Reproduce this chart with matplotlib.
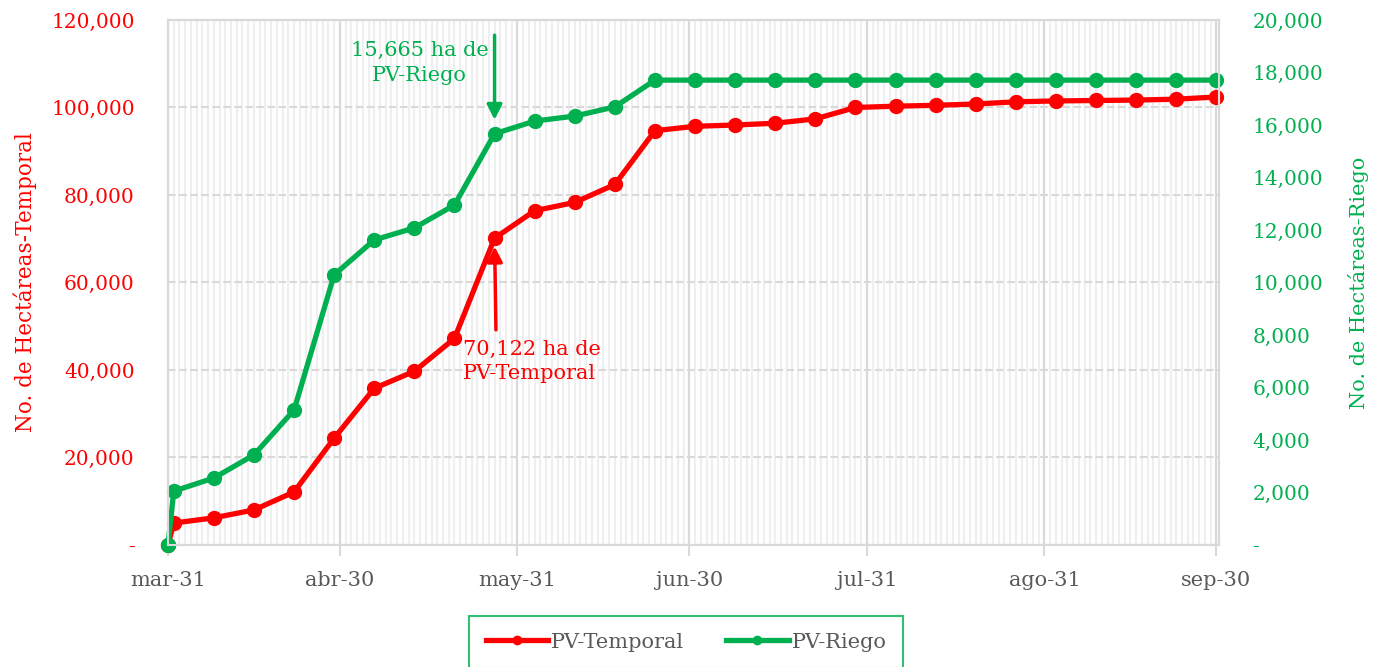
import matplotlib.pyplot as plt
import matplotlib.dates as mdates
import matplotlib.ticker as mticker
import numpy as np
import pandas as pd

# datos semanales (ha acumuladas)
fechas = ['2020-03-31', '2020-04-01', '2020-04-08', '2020-04-15', '2020-04-22', '2020-04-29',
          '2020-05-06', '2020-05-13', '2020-05-20', '2020-05-27', '2020-06-03', '2020-06-10',
          '2020-06-17', '2020-06-24', '2020-07-01', '2020-07-08', '2020-07-15', '2020-07-22',
          '2020-07-29', '2020-08-05', '2020-08-12', '2020-08-19', '2020-08-26', '2020-09-02',
          '2020-09-09', '2020-09-16', '2020-09-23', '2020-09-30']
temporal = [0, 5000, 6200, 8000, 12100, 24400, 35800, 39700, 47200, 70122, 76400, 78300,
            82400, 94700, 95700, 96000, 96400, 97400, 100000, 100300, 100500, 100800,
            101300, 101500, 101600, 101700, 101900, 102400]
riego = [0, 2050, 2550, 3430, 5140, 10290, 11620, 12080, 12950, 15665, 16150, 16340,
         16690, 17710, 17710, 17710, 17710, 17710, 17710, 17710, 17710, 17710,
         17710, 17710, 17710, 17710, 17710, 17710]
ticks_x = ['2020-03-31', '2020-04-30', '2020-05-31', '2020-06-30', '2020-07-31', '2020-08-31', '2020-09-30']
etiquetas_x = ['mar-31', 'abr-30', 'may-31', 'jun-30', 'jul-31', 'ago-31', 'sep-30']

ROJO = '#ff0000'
VERDE = '#00b050'
GRIS = '#595959'

plt.rcParams['font.family'] = ['DejaVu Serif']

x = pd.to_datetime(fechas)

fig = plt.figure(figsize=(13.75, 6.67), dpi=100)
ax = fig.add_axes([0.1222, 0.183, 0.7645, 0.787])
ax2 = ax.twinx()

l1, = ax.plot(x, temporal, color=ROJO, lw=3.8, marker='o', ms=10, label='PV-Temporal', clip_on=False)
l2, = ax2.plot(x, riego, color=VERDE, lw=3.8, marker='o', ms=10, label='PV-Riego', clip_on=False)

# ejes
ax.set_xlim(pd.Timestamp('2020-03-31'), pd.Timestamp('2020-09-30 12:00'))
ax.set_ylim(0, 120000)
ax2.set_ylim(0, 20000)
ax.yaxis.set_major_locator(mticker.MultipleLocator(20000))
ax2.yaxis.set_major_locator(mticker.MultipleLocator(2000))
fmt = mticker.FuncFormatter(lambda v, p: '-' if v == 0 else f'{v:,.0f}')
ax.yaxis.set_major_formatter(fmt)
ax2.yaxis.set_major_formatter(fmt)

ax.set_xticks(pd.to_datetime(ticks_x))
ax.set_xticklabels(etiquetas_x)
ax.xaxis.set_minor_locator(mdates.DayLocator())

ax.tick_params(axis='x', which='major', length=8, color='#d9d9d9', width=1.5,
               labelsize=15, labelcolor=GRIS, pad=11)
ax.tick_params(axis='x', which='minor', length=0)
ax.tick_params(axis='y', length=0, labelsize=14.5, labelcolor=ROJO, pad=24)
ax2.tick_params(axis='y', length=0, labelsize=14.5, labelcolor=VERDE, pad=24)

# rejilla
ax.grid(axis='x', which='minor', color='#efefef', lw=1.6)
ax.grid(axis='x', which='major', color='#d9d9d9', lw=1.6)
ax.grid(axis='y', which='major', color='#d9d9d9', lw=1.5, ls='--')
ax.set_axisbelow(True)
for a in (ax, ax2):
    for s in a.spines.values():
        s.set_color('#d9d9d9')
        s.set_linewidth(1.5)

ax.set_ylabel('No. de Hectáreas-Temporal', color=ROJO, fontsize=15.5, labelpad=10)
ax2.set_ylabel('No. de Hectáreas-Riego', color=VERDE, fontsize=15, rotation=90, labelpad=18)

# anotaciones
ax2.annotate('', xy=(x[9], riego[9]), xytext=(0, 71), textcoords='offset points',
             arrowprops=dict(arrowstyle='-|>,head_width=0.45,head_length=0.9', color=VERDE,
                             lw=2.5, shrinkA=0, shrinkB=10))
ax2.annotate('15,665 ha de\nPV-Riego', xy=(x[9], riego[9]), xytext=(-54, 51),
             textcoords='offset points', ha='center', va='center', color=VERDE, fontsize=15,
             linespacing=1.35)
ax.annotate('', xy=(x[9], temporal[9]), xytext=(1, -66), textcoords='offset points',
            arrowprops=dict(arrowstyle='-|>,head_width=0.45,head_length=0.9', color=ROJO,
                            lw=2.5, shrinkA=0, shrinkB=6))
ax.annotate('70,122 ha de\nPV-Temporal', xy=(x[9], temporal[9]), xytext=(-23, -89),
            textcoords='offset points', ha='left', va='center', color=ROJO, fontsize=15,
            linespacing=1.35)

# leyenda abajo (el borde inferior queda fuera de la figura, como en el original)
leg = fig.legend(handles=[l1, l2], loc='upper center', bbox_to_anchor=(0.499, 0.0765),
                 ncol=2, frameon=True, fancybox=False, fontsize=15, borderpad=0.8,
                 handlelength=3.0, columnspacing=2.0, handletextpad=0.15, markerscale=0.6,
                 borderaxespad=0)
leg.get_frame().set_edgecolor(VERDE)
leg.get_frame().set_linewidth(1.5)
for t in leg.get_texts():
    t.set_color(GRIS)

fig.savefig('out.png', dpi=100)
